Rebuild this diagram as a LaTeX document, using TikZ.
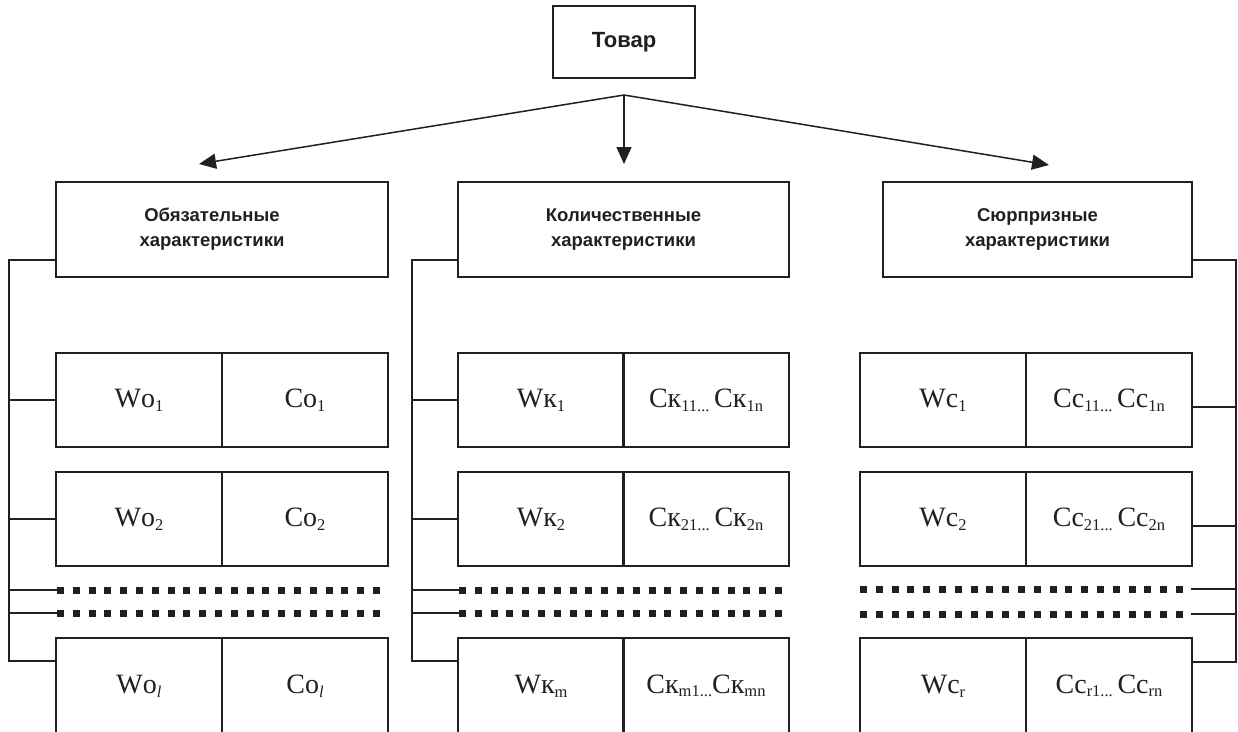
\documentclass[tikz,border=0pt]{standalone}
\usepackage{fontspec}
\setmainfont{Liberation Serif}
\newfontfamily\hdrfont{Liberation Sans}
\usetikzlibrary{arrows.meta}
\definecolor{ink}{RGB}{35,31,32}
\newcommand\mysub[1]{\raisebox{-0.3ex}{\fontsize{16.5}{16.5}\selectfont #1}}
\begin{document}
\begin{tikzpicture}[x=1pt,y=-1pt,
  box/.style={draw=ink,line width=1.8pt,inner sep=0pt,minimum height=94pt,minimum width=166pt,
    font=\fontsize{28}{28}\selectfont,text=ink},
  catbox/.style={draw=ink,line width=1.8pt,inner sep=0pt,minimum height=95pt},
  cattext/.style={font=\hdrfont\bfseries\fontsize{18.5}{25}\selectfont,align=center,text=ink},
  conn/.style={draw=ink,line width=1.5pt},
  dots/.style={draw=ink,line width=7pt,dash pattern=on 7pt off 8.8pt},
  arr/.style={conn,-{Triangle[length=17pt,width=15pt]}}]
\useasboundingbox (0,0) rectangle (1238,731);
\clip (0,0) rectangle (1238,731);
\fill[white] (0,0) rectangle (1238,731);

% top
\node[draw=ink,line width=1.8pt,minimum width=142pt,minimum height=72pt,inner sep=0pt,
  font=\hdrfont\bfseries\fontsize{22}{24}\selectfont,text=ink] (top) at (624,42) {Товар};
\coordinate (split) at (624,95);

% categories
\node[catbox,minimum width=332pt] (catL) at (222,229.5) {};
\node[cattext] (catLt) at ([xshift=-10pt]catL.center) {Обязательные\\характеристики};
\node[catbox,minimum width=331pt] (catM) at (623.5,229.5) {};
\node[cattext] (catMt) at (catM.center) {Количественные\\характеристики};
\node[catbox,minimum width=309pt] (catR) at (1037.5,229.5) {};
\node[cattext] (catRt) at (catR.center) {Сюрпризные\\характеристики};

\coordinate (tipL) at (199,164);
\coordinate (tipM) at (624,164);
\coordinate (tipR) at (1049,165);
\draw[arr] (split) -- (tipL);
\draw[arr] (split) -- (tipM);
\draw[arr] (split) -- (tipR);

% left column
\node[box] (oW1) at (139,400) {Wо\mysub{1}};
\node[box] (oC1) at (305,400) {Cо\mysub{1}};
\node[box] (oW2) at (139,519) {Wо\mysub{2}};
\node[box] (oC2) at (305,519) {Cо\mysub{2}};
\node[box,anchor=north,minimum height=96pt] (oW3) at (139,637) {Wо\mysub{\textit{l}}};
\node[box,anchor=north,minimum height=96pt] (oC3) at (305,637) {Cо\mysub{\textit{l}}};

% middle column
\node[box] (kW1) at (541,400) {Wк\mysub{1}};
\node[box] (kC1) at (706,400) {Cк\mysub{11...}\,Cк\mysub{1n}};
\node[box] (kW2) at (541,519) {Wк\mysub{2}};
\node[box] (kC2) at (706,519) {Cк\mysub{21...}\,Cк\mysub{2n}};
\node[box,anchor=north,minimum height=96pt] (kW3) at (541,637) {Wк\mysub{m}};
\node[box,anchor=north,minimum height=96pt] (kC3) at (706,637) {Cк\mysub{m1...}Cк\mysub{mn}};

% right column
\node[box] (sW1) at (943,400) {Wс\mysub{1}};
\node[box] (sC1) at (1109,400) {Cс\mysub{11...}\,Cс\mysub{1n}};
\node[box] (sW2) at (943,519) {Wс\mysub{2}};
\node[box] (sC2) at (1109,519) {Cс\mysub{21...}\,Cс\mysub{2n}};
\node[box,anchor=north,minimum height=96pt] (sW3) at (943,637) {Wс\mysub{r}};
\node[box,anchor=north,minimum height=96pt] (sC3) at (1109,637) {Cс\mysub{r1...}\,Cс\mysub{rn}};

% dotted rows
\coordinate (dL1a) at (57,590); \coordinate (dL1b) at (381,590);
\coordinate (dL2a) at (57,613); \coordinate (dL2b) at (381,613);
\coordinate (dM1a) at (459,590); \coordinate (dM1b) at (783,590);
\coordinate (dM2a) at (459,613); \coordinate (dM2b) at (783,613);
\coordinate (dR1a) at (860,589); \coordinate (dR1b) at (1184,589);
\coordinate (dR2a) at (860,614); \coordinate (dR2b) at (1184,614);
\draw[dots] (dL1a) -- (dL1b);
\draw[dots] (dL2a) -- (dL2b);
\draw[dots] (dM1a) -- (dM1b);
\draw[dots] (dM2a) -- (dM2b);
\draw[dots] (dR1a) -- (dR1b);
\draw[dots] (dR2a) -- (dR2b);

% buses
\coordinate (busL) at (9,0);
\coordinate (busM) at (412,0);
\coordinate (busR) at (1236,0);
\coordinate (oB3) at ([yshift=-24pt]oW3.north west);
\coordinate (kB3) at ([yshift=-24pt]kW3.north west);
\coordinate (sB3) at ([yshift=-25pt]sC3.north east);

\draw[conn] ([yshift=18pt]catL.south west) -| (busL |- oB3) -- (oB3);
\draw[conn] (busL |- oW1.west) -- (oW1.west);
\draw[conn] (busL |- oW2.west) -- (oW2.west);
\draw[conn] (busL |- dL1a) -- (dL1a);
\draw[conn] (busL |- dL2a) -- (dL2a);

\draw[conn] ([yshift=18pt]catM.south west) -| (busM |- kB3) -- (kB3);
\draw[conn] (busM |- kW1.west) -- (kW1.west);
\draw[conn] (busM |- kW2.west) -- (kW2.west);
\draw[conn] (busM |- dM1a) -- (dM1a);
\draw[conn] (busM |- dM2a) -- (dM2a);

\coordinate (sE1) at ([yshift=-7pt]sC1.east);
\coordinate (sE2) at ([yshift=-7pt]sC2.east);
\coordinate (dR1c) at (1191,589);
\coordinate (dR2c) at (1191,614);
\draw[conn] ([yshift=18pt]catR.south east) -| (busR |- sB3) -- (sB3);
\draw[conn] (sE1) -- (busR |- sE1);
\draw[conn] (sE2) -- (busR |- sE2);
\draw[conn] (dR1c) -- (busR |- dR1c);
\draw[conn] (dR2c) -- (busR |- dR2c);
\end{tikzpicture}
\end{document}
